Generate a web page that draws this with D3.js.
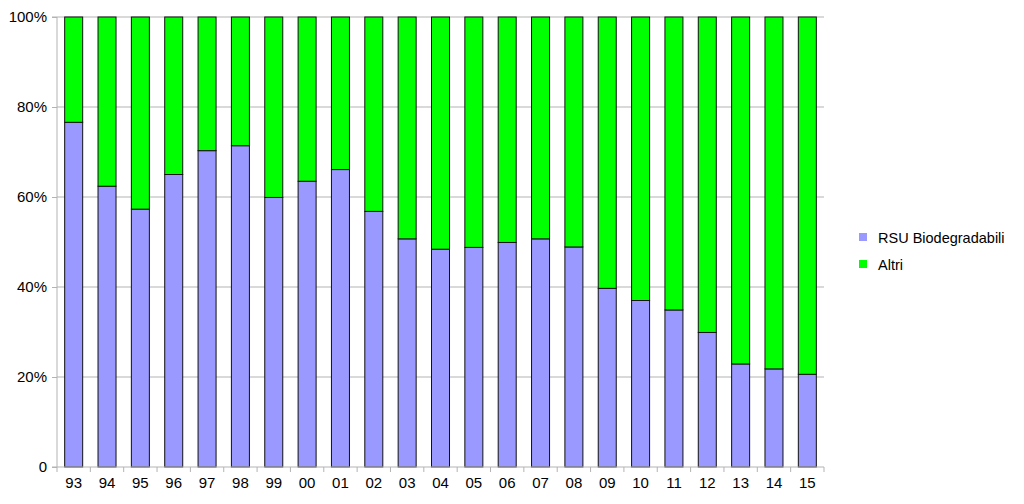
<!DOCTYPE html>
<html><head><meta charset="utf-8">
<script src="https://cdn.jsdelivr.net/npm/d3@7"></script>
<style>body{margin:0;background:#fff}svg{display:block}text{font-family:"Liberation Sans",Arial,sans-serif}</style>
</head><body><svg id="c" width="1024" height="504"></svg>
<script>
const categories = ["93","94","95","96","97","98","99","00","01","02","03","04","05","06","07","08","09","10","11","12","13","14","15"];
const rsuBio = [76.6,62.4,57.3,65.0,70.3,71.4,59.9,63.5,66.1,56.8,50.7,48.4,48.8,49.9,50.7,48.9,39.7,37.0,34.9,29.9,22.9,21.8,20.6];
const altri = rsuBio.map(v => 100 - v);
const seriesNames = ["RSU Biodegradabili","Altri"];
const colors = ["#9999ff","#00ff00"];
const yTicks = [0,20,40,60,80,100];
const yTickLabels = ["0","20%","40%","60%","80%","100%"];

const svg = d3.select("#c");
const L = 57, R = 824, T = 17, B = 467;
const x = d3.scaleBand().domain(categories).range([L, R]).paddingInner(0.46).paddingOuter(0.23);
const y = d3.scaleLinear().domain([0,100]).range([B, T]);
const grey = "#b3b3b3";

// gridlines
svg.append("g").selectAll("line").data(yTicks.slice(1)).join("line")
  .attr("x1", L).attr("x2", R).attr("y1", d => y(d)).attr("y2", d => y(d))
  .attr("stroke", grey).attr("stroke-width", 1);

// bars
const data = categories.map((c,i) => ({c, a: rsuBio[i], b: altri[i]}));
const stack = d3.stack().keys(["a","b"])(data);
svg.append("g").selectAll("g").data(stack).join("g")
  .attr("fill", (d,i) => colors[i])
  .selectAll("rect").data(d => d).join("rect")
  .attr("x", d => x(d.data.c)).attr("width", x.bandwidth())
  .attr("y", d => y(d[1])).attr("height", d => y(d[0]) - y(d[1]))
  .attr("stroke", "#111").attr("stroke-width", 1);

// y axis
const yAxis = d3.axisLeft(y).tickValues(yTicks).tickFormat((d,i) => yTickLabels[i]).tickSize(5).tickPadding(5);
const gy = svg.append("g").attr("transform", `translate(${L},0)`).call(yAxis);
gy.select(".domain").attr("stroke", grey).attr("d", `M-5,${T}H0V${B}H-5`);
gy.selectAll(".tick line").attr("stroke", grey);
gy.selectAll("text").attr("font-size", 15).attr("fill", "#000").style("font-family","Liberation Sans, Arial, sans-serif");

// x axis
const xAxis = d3.axisBottom(x).tickSize(0).tickPadding(10);
const gx = svg.append("g").attr("transform", `translate(0,${B})`).call(xAxis);
gx.select(".domain").attr("stroke", grey).attr("d", `M${L},0H${R}`);
gx.selectAll("text").attr("font-size", 15).attr("fill", "#000").style("font-family","Liberation Sans, Arial, sans-serif");
const boundaries = d3.range(categories.length + 1).map(i => L + i * (R - L) / categories.length);
gx.append("g").selectAll("line").data(boundaries).join("line")
  .attr("x1", d => d).attr("x2", d => d).attr("y1", 0).attr("y2", 5).attr("stroke", grey);

// legend
const lg = svg.append("g").attr("transform", "translate(859,233)");
seriesNames.forEach((n,i) => {
  lg.append("rect").attr("x", 0).attr("y", i*27).attr("width", 8).attr("height", 8).attr("fill", colors[i]);
  lg.append("text").attr("x", 19).attr("y", i*27 + 10).attr("font-size", 14.5).attr("fill", "#000").text(n);
});
</script></body></html>
